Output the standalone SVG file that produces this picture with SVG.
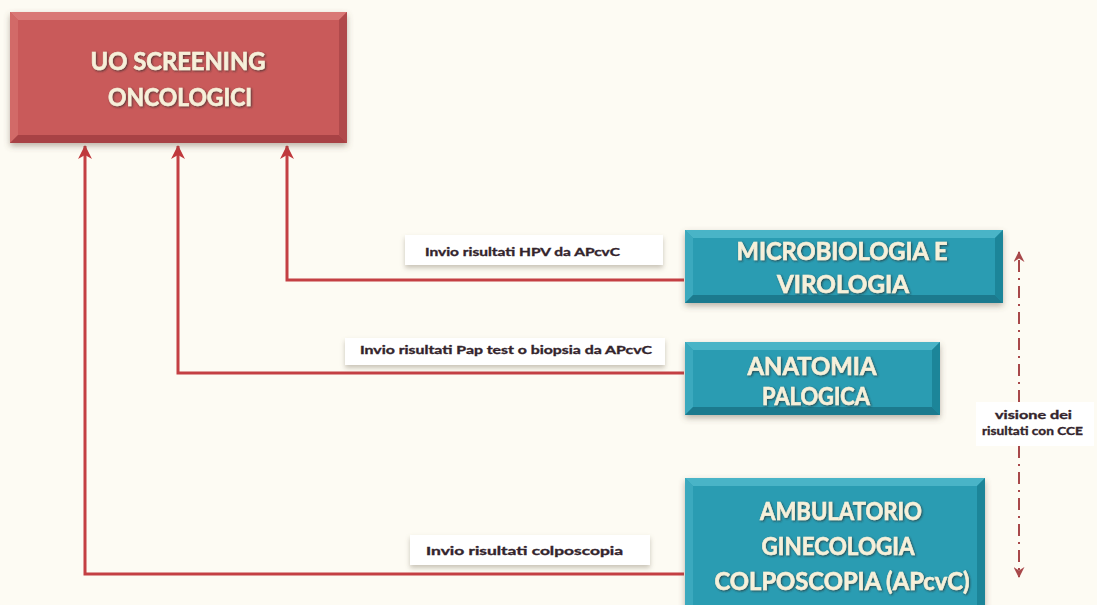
<svg xmlns="http://www.w3.org/2000/svg" width="1097" height="605" viewBox="0 0 1097 605">
  <defs>
    <filter id="boxShadow" x="-10%" y="-10%" width="120%" height="130%">
      <feDropShadow dx="0" dy="3" stdDeviation="3" flood-color="#6b5a4a" flood-opacity="0.45"/>
    </filter>
    <filter id="tagShadow" x="-10%" y="-20%" width="120%" height="160%">
      <feDropShadow dx="0" dy="3" stdDeviation="2.5" flood-color="#8a8070" flood-opacity="0.45"/>
    </filter>
    <filter id="textShadow" x="-5%" y="-20%" width="110%" height="150%">
      <feDropShadow dx="1" dy="1" stdDeviation="0.8" flood-color="#2a2a2a" flood-opacity="0.75"/>
    </filter>
    <!-- heads drawn pointing along the path direction (+x) -->
    <marker id="arrowUp" viewBox="0 0 14 14" refX="13" refY="7" markerWidth="14" markerHeight="14" markerUnits="userSpaceOnUse" orient="auto">
      <path d="M0,0 L14,7 L0,14 L4,7 Z" fill="#c0393d"/>
    </marker>
    <marker id="dashHead" viewBox="0 0 12 12" refX="11" refY="6" markerWidth="11" markerHeight="11" markerUnits="userSpaceOnUse" orient="auto">
      <path d="M0,0 L12,6 L0,12 L4,6 Z" fill="#a8484a"/>
    </marker>
  </defs>
  <style>
    .node-title { font-family: Lato, "Liberation Sans", sans-serif; font-weight: 700; font-size: 24px; fill: #f6f0da; stroke: #f6f0da; stroke-width: 0.6; text-anchor: middle; }
    .tag { fill: #ffffff; }
    .tag-text { font-family: Lato, "Liberation Sans", sans-serif; font-weight: 700; font-size: 11.5px; fill: #33242c; stroke: #33242c; stroke-width: 0.35; }
    .link { fill: none; stroke: #c43f43; stroke-width: 3; }
    .red-face { fill: #c95a5a; }
    .red-top { fill: #d97876; }
    .red-left { fill: #d26a68; }
    .red-right { fill: #b04a4b; }
    .red-bottom { fill: #a84244; }
    .teal-face { fill: #2a9cb2; }
    .teal-top { fill: #4ab4c7; }
    .teal-left { fill: #3aa9be; }
    .teal-right { fill: #1f8599; }
    .teal-bottom { fill: #1b7a8e; }
  </style>

  <!-- paper background -->
  <rect x="0" y="0" width="1097" height="605" fill="#fdfbf3"/>

  <!-- connectors -->
  <g id="connectors">
    <path class="link" d="M684,280 H287 V146" marker-end="url(#arrowUp)"/>
    <path class="link" d="M684,373 H178 V146" marker-end="url(#arrowUp)"/>
    <path class="link" d="M684,574 H85 V146" marker-end="url(#arrowUp)"/>
    <line x1="1019" y1="402" x2="1019" y2="252" stroke="#a8484a" stroke-width="2" stroke-dasharray="12,6,2,6" marker-end="url(#dashHead)"/>
    <line x1="1019" y1="446" x2="1019" y2="577" stroke="#a8484a" stroke-width="2" stroke-dasharray="12,6,2,6" marker-end="url(#dashHead)"/>

    <g id="label-hpv">
      <rect class="tag" x="405" y="235" width="258" height="30" filter="url(#tagShadow)"/>
      <text class="tag-text" x="425" y="256" textLength="195" lengthAdjust="spacingAndGlyphs">Invio risultati HPV da APcvC</text>
    </g>
    <g id="label-pap">
      <rect class="tag" x="345" y="338" width="320" height="27" filter="url(#tagShadow)"/>
      <text class="tag-text" x="360" y="354" textLength="292" lengthAdjust="spacingAndGlyphs">Invio risultati Pap test o biopsia da APcvC</text>
    </g>
    <g id="label-colpo">
      <rect class="tag" x="410" y="535" width="240" height="30" filter="url(#tagShadow)"/>
      <text class="tag-text" x="426" y="555" textLength="197" lengthAdjust="spacingAndGlyphs">Invio  risultati colposcopia</text>
    </g>
    <g id="label-cce">
      <rect class="tag" x="976" y="402" width="118" height="44"/>
      <text class="tag-text" x="995" y="419" textLength="77" lengthAdjust="spacingAndGlyphs">visione  dei</text>
      <text class="tag-text" x="982" y="435" textLength="101" lengthAdjust="spacingAndGlyphs">risultati con CCE</text>
    </g>
  </g>

  <!-- UO Screening Oncologici -->
  <g id="uo-screening" filter="url(#boxShadow)">
    <rect class="red-face" x="10" y="12" width="337" height="131"/>
    <polygon class="red-top" points="10,12 347,12 339,20 18,20"/>
    <polygon class="red-left" points="10,12 18,20 18,135 10,143"/>
    <polygon class="red-right" points="347,12 347,143 339,135 339,20"/>
    <polygon class="red-bottom" points="10,143 18,135 339,135 347,143"/>
  </g>
  <g filter="url(#textShadow)">
    <text class="node-title" x="178" y="70" textLength="175" lengthAdjust="spacingAndGlyphs">UO SCREENING</text>
    <text class="node-title" x="180" y="106" textLength="144" lengthAdjust="spacingAndGlyphs">ONCOLOGICI</text>
  </g>

  <!-- Microbiologia e Virologia -->
  <g id="microbiologia" filter="url(#boxShadow)">
    <rect class="teal-face" x="685" y="230" width="318" height="73"/>
    <polygon class="teal-top" points="685,230 1003,230 995,238 693,238"/>
    <polygon class="teal-left" points="685,230 693,238 693,295 685,303"/>
    <polygon class="teal-right" points="1003,230 1003,303 995,295 995,238"/>
    <polygon class="teal-bottom" points="685,303 693,295 995,295 1003,303"/>
  </g>
  <g filter="url(#textShadow)">
    <text class="node-title" x="842" y="260" textLength="211" lengthAdjust="spacingAndGlyphs">MICROBIOLOGIA E</text>
    <text class="node-title" x="843" y="293" textLength="132" lengthAdjust="spacingAndGlyphs">VIROLOGIA</text>
  </g>

  <!-- Anatomia Palogica -->
  <g id="anatomia" filter="url(#boxShadow)">
    <rect class="teal-face" x="685" y="342" width="255" height="73"/>
    <polygon class="teal-top" points="685,342 940,342 932,350 693,350"/>
    <polygon class="teal-left" points="685,342 693,350 693,407 685,415"/>
    <polygon class="teal-right" points="940,342 940,415 932,407 932,350"/>
    <polygon class="teal-bottom" points="685,415 693,407 932,407 940,415"/>
  </g>
  <g filter="url(#textShadow)">
    <text class="node-title" x="812" y="375" textLength="129" lengthAdjust="spacingAndGlyphs">ANATOMIA</text>
    <text class="node-title" x="816" y="405" textLength="108" lengthAdjust="spacingAndGlyphs">PALOGICA</text>
  </g>

  <!-- Ambulatorio Ginecologia Colposcopia -->
  <g id="ambulatorio" filter="url(#boxShadow)">
    <rect class="teal-face" x="685" y="478" width="300" height="135"/>
    <polygon class="teal-top" points="685,478 985,478 977,486 693,486"/>
    <polygon class="teal-left" points="685,478 693,486 693,613 685,613"/>
    <polygon class="teal-right" points="985,478 985,613 977,613 977,486"/>
  </g>
  <g filter="url(#textShadow)">
    <text class="node-title" x="841" y="520" textLength="162" lengthAdjust="spacingAndGlyphs">AMBULATORIO</text>
    <text class="node-title" x="838" y="555" textLength="153" lengthAdjust="spacingAndGlyphs">GINECOLOGIA</text>
    <text class="node-title" x="842" y="590" textLength="255" lengthAdjust="spacingAndGlyphs">COLPOSCOPIA (APcvC)</text>
  </g>
</svg>
